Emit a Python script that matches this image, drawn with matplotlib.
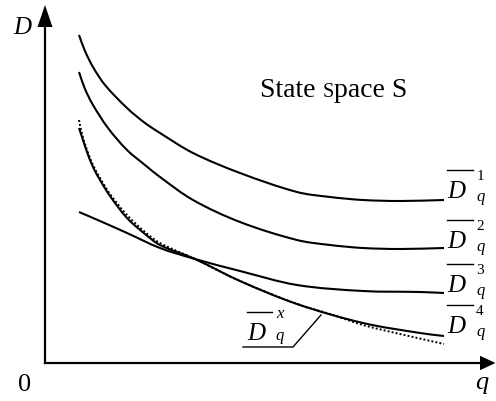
import numpy as np
import matplotlib.pyplot as plt
from matplotlib.path import Path
from matplotlib.patches import PathPatch

# curve values (q, D)
q1 = [3.4, 4.0, 4.8, 6.0, 8.2, 10.0, 11.5, 14.8, 19.5, 25.2, 28.5, 31.8, 35.5, 39.9]
d1 = [32.8, 31.2, 29.6, 27.8, 25.5, 24.0, 23.0, 21.0, 19.0, 17.1, 16.6, 16.3, 16.2, 16.3]

q2 = [3.4, 4.0, 4.8, 6.3, 8.2, 10.0, 11.5, 14.8, 19.5, 25.2, 28.5, 31.8, 35.5, 39.9]
d2 = [29.1, 27.4, 25.8, 23.5, 21.3, 19.8, 18.6, 16.3, 14.1, 12.3, 11.8, 11.5, 11.4, 11.5]

q3 = [3.4, 5.5, 8.2, 11.5, 15.0, 19.5, 25.2, 31.8, 37.5, 39.9]
d3 = [15.1, 14.2, 13.0, 11.5, 10.4, 9.2, 7.8, 7.2, 7.1, 7.0]

q4 = [3.4, 3.7, 4.2, 4.8, 5.5, 6.5, 8.2, 10.0, 11.5, 15.0, 19.5, 25.2, 31.8, 37.5, 39.9]
d4 = [23.5, 22.6, 21.1, 19.6, 18.3, 16.7, 14.5, 12.9, 11.8, 10.4, 8.2, 5.9, 4.0, 3.0, 2.7]

qx = [3.4, 3.7, 4.2, 4.8, 5.5, 6.5, 8.2, 10.0, 11.5, 15.0, 19.5, 25.2, 28.5, 31.8, 35.5, 39.9]
dx = [24.3, 22.9, 21.3, 19.8, 18.5, 16.9, 14.8, 13.1, 12.0, 10.4, 8.2, 5.9, 4.9, 3.8, 2.9, 1.9]

labels = ["1", "2", "3", "4"]

serif = "Liberation Serif"


def smooth(q, d):
    # bezier path through the read points (tangent from neighbours)
    p = np.column_stack([q, d]).astype(float)
    n = len(p)
    verts = [p[0]]
    codes = [Path.MOVETO]
    for i in range(n - 1):
        a, b = p[i], p[i + 1]
        ta = p[min(i + 1, n - 1)] - p[max(i - 1, 0)]
        tb = p[min(i + 2, n - 1)] - p[i]
        ta = ta / np.hypot(*ta)
        tb = tb / np.hypot(*tb)
        h = np.hypot(*(b - a)) / 3
        verts += [a + ta * h, b - tb * h, b]
        codes += [Path.CURVE4] * 3
    return Path(verts, codes)


fig = plt.figure(figsize=(4.96, 4.01), dpi=100)
ax = fig.add_axes([0, 0, 1, 1])
ax.set_xlim(-4.5, 45.1)
ax.set_ylim(-3.8, 36.3)
ax.axis("off")

# axes with arrow heads
ax.plot([0, 0], [0, 33.8], color="black", lw=1.6)
ax.plot([0, 43.6], [0, 0], color="black", lw=1.6)
ax.fill([-0.75, 0.75, 0], [33.6, 33.6, 35.8], color="black", lw=0)
ax.fill([43.5, 43.5, 45.05], [0.72, -0.72, 0], color="black", lw=0)
ax.text(-2.25, 32.9, "D", family=serif, style="italic", fontsize=18, ha="center", va="baseline")
ax.text(43.7, -2.6, "q", family=serif, style="italic", fontsize=19, ha="center", va="baseline")
ax.text(-2.0, -2.8, "0", family=serif, fontsize=19, ha="center", va="baseline")

# curves
for q, d in [(q1, d1), (q2, d2), (q3, d3), (q4, d4)]:
    ax.add_patch(PathPatch(smooth(q, d), fill=False, edgecolor="black", lw=1.5))
ax.add_patch(PathPatch(smooth(qx, dx), fill=False, edgecolor="black", lw=1.4,
                       linestyle=(0, (1, 1.1))))

# right hand labels
base = [16.5, 11.5, 7.1, 3.0]
for lab, y in zip(labels, base):
    ax.text(40.2, y, "D", family=serif, style="italic", fontsize=18, ha="left", va="baseline")
    ax.plot([40.2, 42.8], [y + 2.8, y + 2.8], color="black", lw=1.0)
    ax.text(43.5, y + 1.8, lab, family=serif, fontsize=11, ha="center", va="baseline")
    ax.text(43.6, y - 0.3, "q", family=serif, style="italic", fontsize=12, ha="center", va="baseline")

# D_q^x label with leader line
ax.text(20.2, 2.3, "D", family=serif, style="italic", fontsize=18, ha="left", va="baseline")
ax.plot([20.2, 22.7], [5.1, 5.1], color="black", lw=1.0)
ax.text(23.5, 4.5, "x", family=serif, style="italic", fontsize=12, ha="center", va="baseline")
ax.text(23.5, 2.3, "q", family=serif, style="italic", fontsize=12, ha="center", va="baseline")
ax.plot([27.6, 24.8, 19.8], [4.8, 1.6, 1.6], color="black", lw=1.0)

# "State space S" with a small capital S in "space"
fig.canvas.draw()
r = fig.canvas.get_renderer()
x0, y0 = 21.5, 26.6
parts = [("State ", 20), ("S", 14.5), ("pace S", 20)]
for txt, fs in parts:
    t = ax.text(x0, y0, txt, family=serif, fontsize=fs, ha="left", va="baseline")
    bb = t.get_window_extent(renderer=r)
    x0 = ax.transData.inverted().transform((bb.x1, 0))[0]

fig.savefig("out.png", dpi=100)
